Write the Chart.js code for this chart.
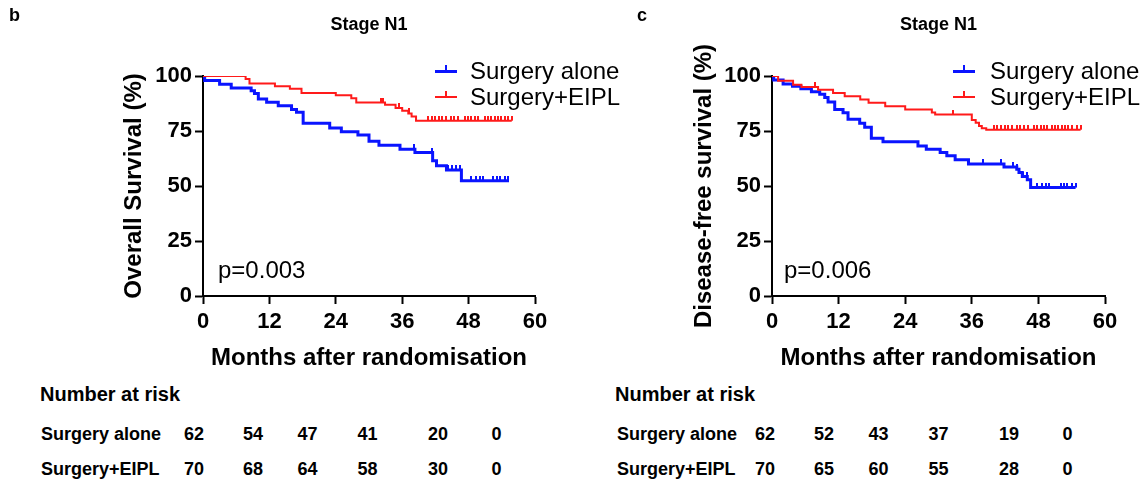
<!DOCTYPE html>
<html>
<head>
<meta charset="utf-8">
<script src="https://cdn.jsdelivr.net/npm/chart.js@4.4.1/dist/chart.umd.min.js"></script>
<style>
  html,body{margin:0;padding:0;background:#fff;}
  body{width:1146px;height:481px;position:relative;overflow:hidden;font-family:'Liberation Sans',Arial,Helvetica,sans-serif;color:#000;}
  canvas{position:absolute;top:0;}
  .t{position:absolute;white-space:nowrap;line-height:1;transform:translateY(-50%);z-index:2;}
  .c{transform:translate(-50%,-50%);}
  .b{font-weight:bold;}
  .sw{position:absolute;z-index:2;}
</style>
</head>
<body>
<canvas id="cb" width="573" height="380" style="left:0px;width:573px;height:380px"></canvas>
<canvas id="cc" width="573" height="380" style="left:573px;width:573px;height:380px"></canvas>
<script>
// ---------------- DATA ----------------
const monthTicks = [0, 12, 24, 36, 48, 60];
const survivalTicks = [0, 25, 50, 75, 100];
const seriesNames = ['Surgery alone', 'Surgery+EIPL'];
const panelLetters = ['b', 'c'];
const panelTitles = ['Stage N1', 'Stage N1'];
const yTitles = ['Overall Survival (%)', 'Disease-free survival (%)'];
const xTitle = 'Months after randomisation';
const pValues = ['p=0.003', 'p=0.006'];

// Panel b: overall survival, Surgery alone (step times in months, survival %)
const osAloneTime = [0, 0.3, 3.0, 5.1, 8.7, 9.3, 10.0, 11.5, 13.6, 16.0, 16.9, 18.1, 22.9, 25.0, 28.0, 30.0, 31.8, 35.6, 38.3, 41.5, 42.2, 44.0, 46.7, 55.3];
const osAloneSurv = [100, 98.0, 96.2, 94.6, 93.3, 92.0, 89.6, 88.1, 86.5, 84.8, 83.5, 78.5, 76.4, 74.7, 73.2, 70.3, 68.5, 66.7, 65.2, 61.5, 59.2, 57.3, 52.4, 52.4];
const osAloneCensor = [38.2, 41.3, 44.3, 45.0, 45.8, 46.5, 48.5, 49.3, 50.0, 50.6, 52.4, 53.1, 53.6, 54.6, 55.2];
// Panel b: overall survival, Surgery+EIPL
const osEiplTime = [0, 7.7, 8.4, 13.0, 15.7, 17.8, 24.0, 26.8, 27.7, 32.9, 34.8, 36.0, 37.1, 37.7, 38.5, 55.8];
const osEiplSurv = [100, 98.6, 96.6, 95.3, 94.2, 92.3, 91.2, 89.9, 87.9, 86.9, 85.5, 84.2, 83.0, 81.6, 79.7, 79.7];
const osEiplCensor = [32.2, 32.6, 35.5, 37.3, 40.7, 41.3, 41.9, 42.6, 43.2, 44.0, 44.8, 45.4, 46.1, 47.3, 47.9, 48.5, 49.1, 49.7, 50.9, 51.5, 52.1, 52.7, 53.3, 53.9, 54.6, 55.2, 55.8];

// Panel c: disease-free survival, Surgery alone
const dfsAloneTime = [0, 0.3, 2.0, 3.7, 5.2, 7.1, 8.6, 9.5, 10.1, 11.3, 12.8, 13.7, 15.8, 16.7, 17.9, 20.0, 26.3, 27.8, 30.3, 31.5, 33.0, 35.4, 41.8, 44.1, 44.5, 45.1, 46.0, 46.6, 54.7];
const dfsAloneSurv = [100, 98.2, 96.4, 95.3, 94.2, 92.8, 91.7, 90.2, 88.2, 84.8, 83.3, 80.3, 78.5, 76.7, 71.7, 70.1, 68.2, 66.7, 65.2, 63.7, 61.9, 60.0, 58.6, 57.6, 56.1, 54.3, 52.8, 49.3, 49.3];
const dfsAloneCensor = [38.1, 41.2, 43.5, 44.2, 45.3, 45.9, 47.8, 48.7, 49.3, 49.9, 52.0, 52.6, 53.2, 54.1, 54.7];
// Panel c: disease-free survival, Surgery+EIPL
const dfsEiplTime = [0, 1.1, 3.8, 5.3, 8.3, 11.0, 13.1, 15.9, 17.4, 20.4, 24.0, 28.8, 29.4, 36.0, 36.7, 37.3, 37.8, 38.6, 55.6];
const dfsEiplSurv = [100, 97.8, 96.0, 95.0, 93.8, 92.3, 90.8, 89.3, 87.8, 86.3, 84.8, 83.4, 82.5, 80.0, 78.7, 77.3, 76.2, 75.6, 75.6];
const dfsEiplCensor = [7.7, 32.7, 40.0, 40.6, 41.2, 41.9, 42.5, 43.3, 44.1, 44.7, 45.4, 46.1, 47.2, 47.8, 48.4, 49.0, 49.6, 50.4, 51.0, 51.6, 52.2, 52.8, 53.4, 54.0, 54.9, 55.6];

// Number at risk tables
const riskHeader = 'Number at risk';
const riskOsAlone = [62, 54, 47, 41, 20, 0];
const riskOsEipl = [70, 68, 64, 58, 30, 0];
const riskDfsAlone = [62, 52, 43, 37, 19, 0];
const riskDfsEipl = [70, 65, 60, 55, 28, 0];

// ---------------- STYLE / LAYOUT ----------------
const BLUE = '#0a14ff';
const RED = '#ff1a1a';
const FONT = "'Liberation Sans', Arial, Helvetica, sans-serif";
Chart.defaults.font.family = FONT;
Chart.defaults.color = '#000';

function stepLevel(T, S, t) { let v = S[0]; for (let i = 0; i < T.length; i++) { if (T[i] <= t) v = S[i]; } return v; }
function toPts(T, S) { return T.map((t, i) => ({ x: t, y: S[i] })); }
function censorPts(T, S, C) { return C.map(t => ({ x: t, y: stepLevel(T, S, t) })); }
function tickImg(color, w, h) {
  const c = document.createElement('canvas'); c.width = w; c.height = h * 2;
  const g = c.getContext('2d'); g.fillStyle = color; g.fillRect(0, 0, w, h); return c;
}

function makeChart(id, cfg) {
  const lineDs = (T, S, color, w) => ({
    data: toPts(T, S), borderColor: color, borderWidth: w, stepped: true,
    pointRadius: 0, fill: false, tension: 0, borderJoinStyle: 'miter', borderCapStyle: 'butt'
  });
  const cenDs = (T, S, C, color) => ({
    data: censorPts(T, S, C), showLine: false, pointStyle: tickImg(color, 2, 5),
    pointRadius: 3, borderColor: color, backgroundColor: color
  });
  return new Chart(document.getElementById(id), {
    type: 'line',
    data: {
      datasets: [
        lineDs(cfg.eT, cfg.eS, RED, 2),
        cenDs(cfg.eT, cfg.eS, cfg.eC, RED),
        lineDs(cfg.aT, cfg.aS, BLUE, 3),
        cenDs(cfg.aT, cfg.aS, cfg.aC, BLUE)
      ]
    },
    options: {
      responsive: false, animation: false, devicePixelRatio: 1,
      layout: { padding: { left: 0, right: cfg.rightPad, top: 0, bottom: 0 } },
      plugins: {
        legend: { display: false }, tooltip: { enabled: false },
        title: {
          display: true, text: cfg.title, fullSize: false, color: '#000',
          font: { size: 18, weight: 'bold' }, padding: { top: 14, bottom: 40.4 }
        }
      },
      scales: {
        x: {
          type: 'linear', min: monthTicks[0], max: monthTicks[monthTicks.length - 1],
          afterBuildTicks: s => { s.ticks = monthTicks.map(v => ({ value: v })); },
          afterFit: s => { s.height = 84; },
          ticks: { font: { size: 22, weight: 'bold' }, color: '#000', padding: 5, maxRotation: 0 },
          grid: { display: true, drawOnChartArea: false, drawTicks: true, tickLength: 8, tickColor: '#000', tickWidth: 2 },
          border: { display: true, color: '#000', width: 2 },
          title: { display: true, text: xTitle, color: '#000', font: { size: 24, weight: 'bold' }, padding: { top: 0, bottom: 7 } }
        },
        y: {
          type: 'linear', min: survivalTicks[0], max: survivalTicks[survivalTicks.length - 1],
          afterBuildTicks: s => { s.ticks = survivalTicks.map(v => ({ value: v })); },
          afterFit: s => { s.width = cfg.yWidth; },
          ticks: { font: { size: 22, weight: 'bold' }, color: '#000', padding: 3 },
          grid: { display: true, drawOnChartArea: false, drawTicks: true, tickLength: 8, tickColor: '#000', tickWidth: 2 },
          border: { display: true, color: '#000', width: 2 },
          title: { display: true, text: cfg.yTitle, color: '#000', font: { size: 24, weight: 'bold' }, padding: { top: cfg.yTitlePad, bottom: 0 } }
        }
      }
    }
  });
}

makeChart('cb', { title: panelTitles[0], yTitle: yTitles[0], yWidth: 203, rightPad: 38, yTitlePad: 120,
  aT: osAloneTime, aS: osAloneSurv, aC: osAloneCensor, eT: osEiplTime, eS: osEiplSurv, eC: osEiplCensor });
makeChart('cc', { title: panelTitles[1], yTitle: yTitles[1], yWidth: 199, rightPad: 41, yTitlePad: 117,
  aT: dfsAloneTime, aS: dfsAloneSurv, aC: dfsAloneCensor, eT: dfsEiplTime, eS: dfsEiplSurv, eC: dfsEiplCensor });

// ---------------- HTML text (letters, legends, p-values, risk tables) ----------------
function addText(txt, x, y, size, bold, center) {
  const d = document.createElement('div');
  d.className = 't' + (bold ? ' b' : '') + (center ? ' c' : '');
  d.style.left = x + 'px'; d.style.top = y + 'px'; d.style.fontSize = size + 'px';
  d.textContent = txt; document.body.appendChild(d); return d;
}
function addSwatch(x, y, color, w) {
  const l = document.createElement('div'); l.className = 'sw';
  l.style.cssText += `left:${x}px;top:${y - w / 2}px;width:22px;height:${w}px;background:${color}`;
  document.body.appendChild(l);
  const t = document.createElement('div'); t.className = 'sw';
  t.style.cssText += `left:${x + 10}px;top:${y - 6}px;width:2px;height:6px;background:${color}`;
  document.body.appendChild(t);
}

const panelOffset = [0, 571];
const legendX = [435, 953];
const legendTextX = [470, 990];
const riskCols = [194, 253, 307.5, 367.5, 438, 496.5];
const riskTables = [[riskOsAlone, riskOsEipl], [riskDfsAlone, riskDfsEipl]];
const riskRowsY = [434, 469];

addText(panelLetters[0], 9, 15, 18, true);
addText(panelLetters[1], 637, 15, 18, true);

for (let p = 0; p < 2; p++) {
  // legend
  addSwatch(legendX[p], 71, BLUE, 3);
  addText(seriesNames[0], legendTextX[p], 71, 24, false);
  addSwatch(legendX[p], 97, RED, 2);
  addText(seriesNames[1], legendTextX[p], 97, 24, false);
  // p value
  addText(pValues[p], p === 0 ? 218 : 784, 270, 24, false);
  // risk table
  const o = panelOffset[p];
  addText(riskHeader, 40 + o + (p ? 4 : 0), 394, 20, true);
  addText(seriesNames[0], 41 + o + (p ? 5 : 0), riskRowsY[0], 18, true);
  addText(seriesNames[1], 41 + o + (p ? 5 : 0), riskRowsY[1], 18, true);
  riskTables[p].forEach((row, r) => {
    row.forEach((v, i) => addText(String(v), riskCols[i] + o, riskRowsY[r], 18, true, true));
  });
}
</script>
</body>
</html>
